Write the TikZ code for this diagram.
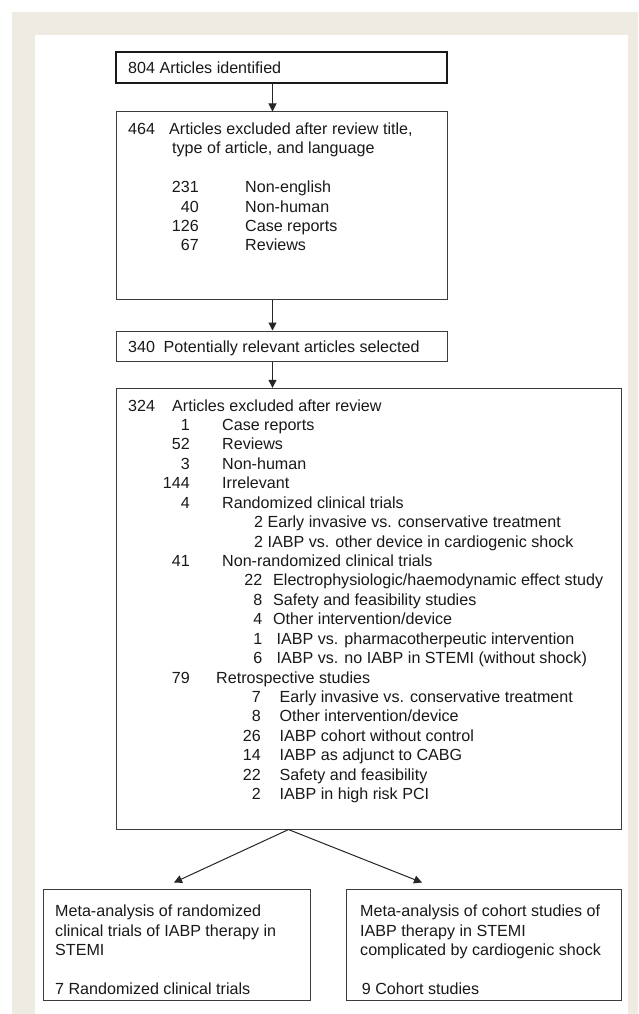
\documentclass[tikz,border=0pt]{standalone}
\usepackage{fontspec}
\setmainfont{Liberation Sans}
\usepackage{tikz}
\usetikzlibrary{arrows.meta}
\definecolor{FrameBeige}{RGB}{238,236,226}
\definecolor{LineGray}{RGB}{60,60,60}
\newcommand\boxfont{\fontsize{16.1pt}{19.4pt}\selectfont}

\begin{document}
\begin{tikzpicture}[x=1pt, y=-1pt,
            box/.style={rectangle, draw=LineGray, line width=1pt, inner sep=0pt},
            txt/.style={inner sep=0pt, anchor=base west, font=\boxfont, text=black!90},
            num/.style={txt, anchor=base east},
            arr/.style={draw=black!85, line width=1pt,
                        -{Triangle[length=8pt, width=8pt]}}
          ]
          \useasboundingbox (0,0) rectangle (638,1014);
          % Frame
          \fill[FrameBeige] (12,12) rectangle (638,1014);
          \fill[white] (35,35) rectangle (628,1014);

          % Boxes
          \node[box, draw=black!90, line width=1.8pt, minimum width=331pt, minimum height=31pt]
                (b1) at (281.5,67.5) {};
          \node[box, minimum width=331pt, minimum height=187pt] (b2) at (281.5,205.5) {};
          \node[box, minimum width=331pt, minimum height=30pt] (b3) at (281.5,346) {};
          \node[box, minimum width=505pt, minimum height=440.7pt] (b4) at (368.5,608.7) {};
          \node[box, minimum width=267pt, minimum height=111pt] (b5) at (176.5,944.5) {};
          \node[box, minimum width=275pt, minimum height=111pt] (b6) at (483.5,944.5) {};

          % Arrows
          \draw[arr] ([xshift=-9pt]b1.south) -- ([xshift=-9pt]b2.north);
          \draw[arr] ([xshift=-9pt]b2.south) -- ([xshift=-9pt]b3.north);
          \draw[arr] ([xshift=-9pt]b3.south) -- ([xshift=-9pt]b3.south |- b4.north);
          \coordinate (fork) at ([xshift=-80pt]b4.south);
          \draw[arr] (fork) -- ([xshift=-2.5pt, yshift=6pt]b5.north);
          \draw[arr] (fork) -- ([xshift=-61.5pt, yshift=6pt]b6.north);

          % Box 1
          \node[txt] (t804) at (128,74) {804 Articles identified};

          % Box 2
          \node[txt] (n464) at (128,134.3) {464};
          \node[txt] (t464a) at (169,134.3) {Articles excluded after review title,};
          \node[txt] (t464b) at (172,153.6) {type of article, and language};
          \node[num] (m1) at (199,192.7) {231}; \node[txt] (u1) at (245,192.7) {Non-english};
          \node[num] (m2) at (199,212.0) {40};  \node[txt] (u2) at (245,212.0) {Non-human};
          \node[num] (m3) at (199,231.4) {126}; \node[txt] (u3) at (245,231.4) {Case reports};
          \node[num] (m4) at (199,250.7) {67};  \node[txt] (u4) at (245,250.7) {Reviews};

          % Box 3
          \node[txt] (n340) at (128,352.8) {340};
          \node[txt] (t340) at (163.5,352.8) {Potentially relevant articles selected};

          % Box 4
          \node[txt] (n0) at (128,411.0) {324};
          \node[txt] (t0) at (172,411.0) {Articles excluded after review};
          \node[num] (n1) at (190,430.4) {1};   \node[txt] (t1) at (222,430.4) {Case reports};
          \node[num] (n2) at (190,449.9) {52};  \node[txt] (t2) at (222,449.9) {Reviews};
          \node[num] (n3) at (190,469.3) {3};   \node[txt] (t3) at (222,469.3) {Non-human};
          \node[num] (n4) at (190,488.7) {144}; \node[txt] (t4) at (222,488.7) {Irrelevant};
          \node[num] (n5) at (190,508.2) {4};   \node[txt] (t5) at (222,508.2) {Randomized clinical trials};
          \node[txt] (t6) at (254,527.6) {2 Early invasive vs. conservative treatment};
          \node[txt] (t7) at (254,547.0) {2 IABP vs. other device in cardiogenic shock};
          \node[num] (n8) at (190,566.4) {41};  \node[txt] (t8) at (222,566.4) {Non-randomized clinical trials};
          \node[num] (n9) at (262.5,585.9) {22};
          \node[txt] (t9) at (273,585.9) {Electrophysiologic/haemodynamic effect study};
          \node[num] (n10) at (262.5,605.3) {8}; \node[txt] (t10) at (273,605.3) {Safety and feasibility studies};
          \node[num] (n11) at (262.5,624.7) {4}; \node[txt] (t11) at (273,624.7) {Other intervention/device};
          \node[num] (n12) at (262.5,644.2) {1};
          \node[txt] (t12) at (276.5,644.2) {IABP vs. pharmacotherpeutic intervention};
          \node[num] (n13) at (262.5,663.6) {6};
          \node[txt] (t13) at (276.5,663.6) {IABP vs. no IABP in STEMI (without shock)};
          \node[num] (n14) at (190,683.0) {79};  \node[txt] (t14) at (216,683.0) {Retrospective studies};
          \node[num] (n15) at (261,702.5) {7};
          \node[txt] (t15) at (279.5,702.5) {Early invasive vs. conservative treatment};
          \node[num] (n16) at (261,721.9) {8};   \node[txt] (t16) at (279.5,721.9) {Other intervention/device};
          \node[num] (n17) at (261,741.3) {26};  \node[txt] (t17) at (279.5,741.3) {IABP cohort without control};
          \node[num] (n18) at (261,760.7) {14};  \node[txt] (t18) at (279.5,760.7) {IABP as adjunct to CABG};
          \node[num] (n19) at (261,780.2) {22};  \node[txt] (t19) at (279.5,780.2) {Safety and feasibility};
          \node[num] (n20) at (261,799.6) {2};   \node[txt] (t20) at (279.5,799.6) {IABP in high risk PCI};

          % Box 5
          \node[txt] (r1) at (55,916.7) {Meta-analysis of randomized};
          \node[txt] (r2) at (55,936.0) {clinical trials of IABP therapy in};
          \node[txt] (r3) at (55,955.3) {STEMI};
          \node[txt] (r4) at (55,994.6) {7 Randomized clinical trials};

          % Box 6
          \node[txt] (c1) at (360,916.7) {Meta-analysis of cohort studies of};
          \node[txt] (c2) at (360,936.0) {IABP therapy in STEMI};
          \node[txt] (c3) at (360,955.3) {complicated by cardiogenic shock};
          \node[txt] (c4) at (361.7,994.6) {9 Cohort studies};
        \end{tikzpicture}
\end{document}
